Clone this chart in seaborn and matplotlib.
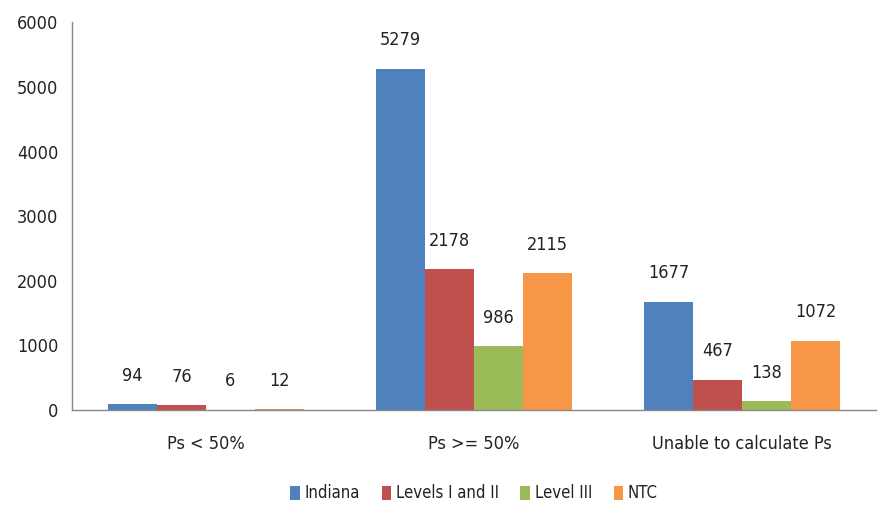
import matplotlib
matplotlib.use("Agg")
import matplotlib.pyplot as plt
import seaborn as sns
import pandas as pd

categories = ["Ps < 50%", "Ps >= 50%", "Unable to calculate Ps"]
series = ["Indiana", "Levels I and II", "Level III", "NTC"]
indiana = [94, 5279, 1677]
levels_1_2 = [76, 2178, 467]
level_3 = [6, 986, 138]
ntc = [12, 2115, 1072]
colors = ["#4F81BD", "#C0504D", "#9BBB59", "#F79646"]

rows = []
for s, vals in zip(series, [indiana, levels_1_2, level_3, ntc]):
    for c, v in zip(categories, vals):
        rows.append({"category": c, "series": s, "value": v})
df = pd.DataFrame(rows)

sns.set_style("white")
plt.rcParams["font.family"] = ["DejaVu Sans", "Liberation Sans"]
plt.rcParams["font.stretch"] = "condensed"

fig = plt.figure(figsize=(8.85, 5.05), dpi=100)
ax = fig.add_axes([0.0814, 0.188, 0.9085, 0.768])
sns.barplot(data=df, x="category", y="value", hue="series", order=categories,
            hue_order=series, palette=colors, width=0.73, saturation=1,
            edgecolor="none", ax=ax, legend=True)

for cont in ax.containers:
    ax.bar_label(cont, padding=14, fontsize=13, color="#222222")

ax.set_ylim(0, 6000)
ax.set_xlim(-0.5, 2.5)
ax.set_yticks(range(0, 6001, 1000))
ax.set_xlabel("")
ax.set_ylabel("")
ax.tick_params(axis="y", length=0, labelsize=13, pad=10, colors="#222222")
ax.tick_params(axis="x", which="major", length=0, labelsize=13, pad=18, colors="#222222")
ax.set_xticks([-0.5, 0.5, 1.5, 2.5], minor=True)
ax.tick_params(axis="x", which="minor", length=8, color="#888888", width=1)
for s in ["top", "right"]:
    ax.spines[s].set_visible(False)
for s in ["left", "bottom"]:
    ax.spines[s].set_color("#888888")
    ax.spines[s].set_linewidth(1)

leg = ax.legend(loc="center", bbox_to_anchor=(0.5, -0.215), ncol=4, frameon=False,
                fontsize=12, handlelength=0.55, handleheight=0.9, handletextpad=0.3,
                columnspacing=1.3)
for t in leg.get_texts():
    t.set_color("#222222")

fig.savefig("out.png", dpi=100)
